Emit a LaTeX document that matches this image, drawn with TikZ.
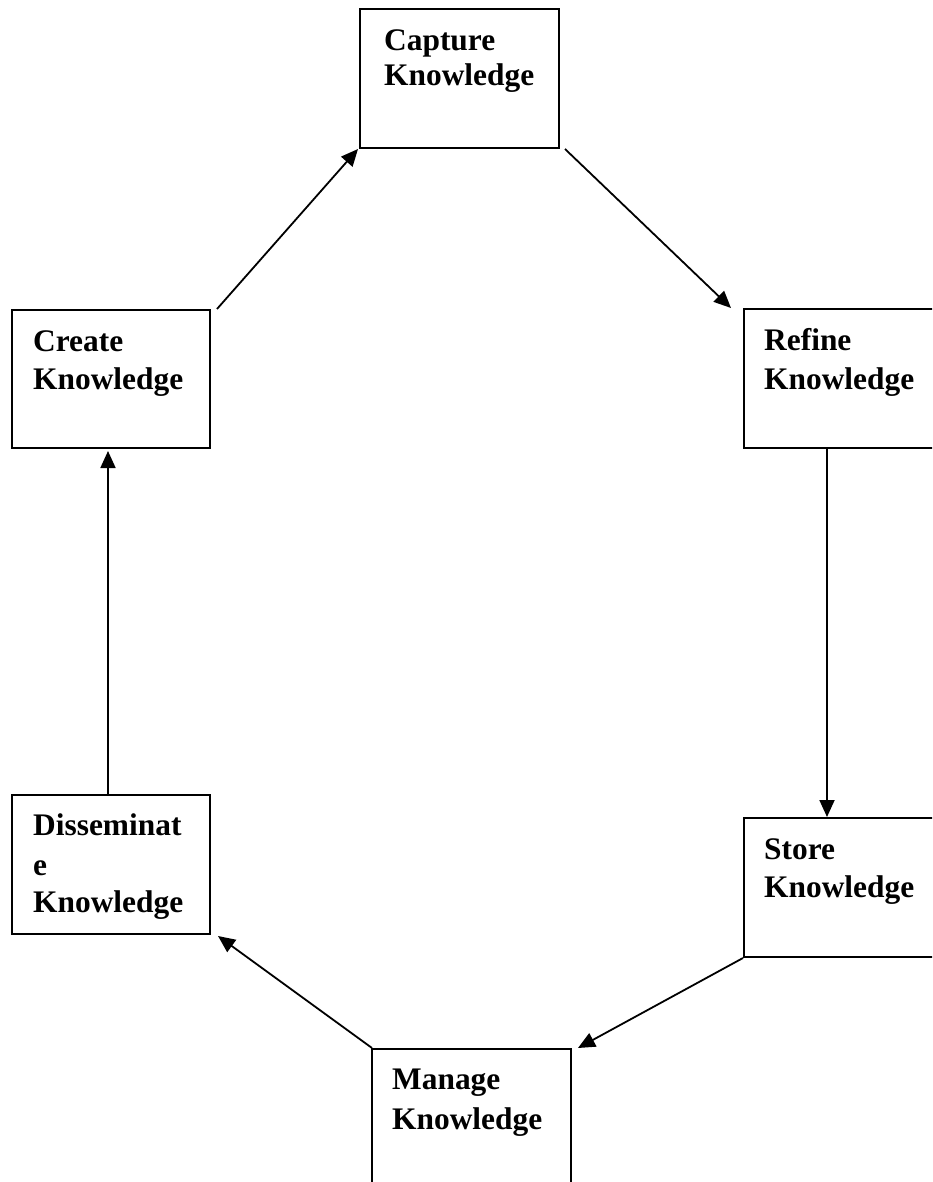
\documentclass[tikz,border=0pt]{standalone}
\usepackage{fontspec}
\setmainfont{Liberation Serif}
\usetikzlibrary{arrows.meta}
\begin{document}
\begin{tikzpicture}[x=1pt,y=-1pt,
  box/.style={draw=black,line width=2pt,rectangle,minimum width=199pt,minimum height=139pt,inner sep=0pt,anchor=north west},
  lbl/.style={anchor=base west,inner sep=0pt,font=\fontsize{31.4}{38}\selectfont\bfseries},
  arr/.style={line width=1.8pt,-{Triangle[length=17pt,width=15pt]}}]
\clip (0,0) rectangle (932,1182);
\fill[white] (0,0) rectangle (932,1182);
% boxes
\node[box] (capture) at (359,8) {};
\node[box] (refine) at (743,308) {};
\node[box] (store) at (743,817) {};
\node[box] (manage) at (371,1048) {};
\node[box,minimum width=198pt] (diss) at (11,794) {};
\node[box,minimum width=198pt,minimum height=138pt] (create) at (11,309) {};
% labels
\node[lbl] (captureA) at (384,51) {Capture};
\node[lbl] (captureB) at (384,86) {Knowledge};
\node[lbl] (refineA) at (764,350) {Refine};
\node[lbl] (refineB) at (764,389) {Knowledge};
\node[lbl] (storeA) at (764,859) {Store};
\node[lbl] (storeB) at (764,897) {Knowledge};
\node[lbl] (manageA) at (392,1089) {Manage};
\node[lbl] (manageB) at (392,1129) {Knowledge};
\node[lbl] (dissA) at (33,835) {Disseminat};
\node[lbl] (dissB) at (33,875) {e};
\node[lbl] (dissC) at (33,912) {Knowledge};
\node[lbl] (createA) at (33,351) {Create};
\node[lbl] (createB) at (33,389) {Knowledge};
% connectors
\draw[arr] ([shift={(6,0)}]create.north east) -- ([shift={(-1,0)}]capture.south west);
\draw[arr] ([shift={(5,0)}]capture.south east) -- ([shift={(-12,0)}]refine.north west);
\draw[arr] ([shift={(84,0)}]refine.south west) -- ([shift={(84,0)}]store.north west);
\draw[arr] (store.south west) -- ([shift={(6,0)}]manage.north east);
\draw[arr] ([shift={(1,0)}]manage.north west) -- ([shift={(7,1)}]diss.south east);
\draw[arr] ([xshift=-3pt]diss.north) -- ([shift={(-3,2)}]create.south);
\end{tikzpicture}
\end{document}
